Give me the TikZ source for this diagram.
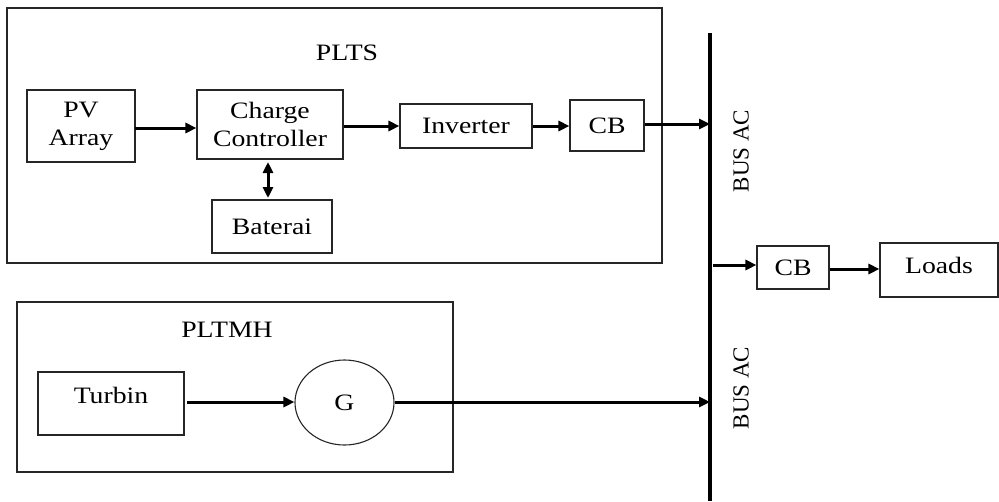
\documentclass[tikz,border=0pt]{standalone}
\usepackage{fontspec}
\setmainfont{Liberation Serif}[FakeStretch=1.18]
\newfontfamily\busfont{Liberation Serif}
\usetikzlibrary{arrows.meta,shapes.geometric}
\begin{document}
\begin{tikzpicture}[x=1pt,y=-1pt,
  every node/.style={font=\fontsize{23.5}{28}\selectfont, inner sep=0pt, align=center},
  box/.style={draw=black!85, line width=1.1pt, rectangle},
  grp/.style={draw=black!85, line width=1.1pt, rectangle},
  arr/.style={line width=3pt, -{Triangle[length=11pt,width=10pt]}},
  darr/.style={line width=3pt, {Triangle[length=11pt,width=10pt]}-{Triangle[length=11pt,width=10pt]}},
  busline/.style={line width=3.2pt},
  buslabel/.style={rotate=90, font=\busfont\fontsize{23}{28}\selectfont}]
\useasboundingbox (0,0) rectangle (999,501);

% groups
\node[grp, minimum width=655pt, minimum height=255pt] (plts) at (334.5,135.5) {};
\node (pltstitle) at (347,53) {PLTS};
\node[grp, minimum width=436pt, minimum height=170pt] (pltmh) at (235,387) {};
\node (pltmhtitle) at (227,330) {PLTMH};

% PLTS blocks
\node[box, minimum width=108pt, minimum height=72pt] (pv) at (81,126) {PV\\Array};
\node[box, minimum width=146pt, minimum height=69pt] (cc) at (270,124.5) {Charge\\Controller};
\node[box, minimum width=120pt, minimum height=53pt] (bat) at (272,226.5) {Baterai};
\node[box, minimum width=132pt, minimum height=44pt] (inv) at (466,126) {Inverter};
\node[box, minimum width=74pt, minimum height=51pt] (cbone) at (607,125.5) {CB};

% bus
\coordinate (bustop) at (710,33);
\coordinate (busbot) at (710,501);
\draw[busline] (bustop) -- (busbot);
\node[buslabel] (busa) at (741,151) {BUS AC};
\node[buslabel] (busb) at (741,388) {BUS AC};

% load side
\node[box, minimum width=72pt, minimum height=43pt] (cbtwo) at (793,267.5) {CB};
\node[box, minimum width=118pt, minimum height=54pt,
      label={[yshift=5pt]center:Loads}] (loads) at (939,270) {};

% PLTMH blocks
\node[box, minimum width=146pt, minimum height=63pt,
      label={[yshift=8pt]center:Turbin}] (turbin) at (111,403.5) {};
\node[draw=black!85, line width=1.1pt, ellipse, minimum width=99pt, minimum height=85pt] (gen) at (344.5,402.5) {G};

% connectors
\coordinate (pvout) at (135,128);
\draw[arr] (pvout) -- (pvout -| cc.west);
\draw[arr] (cc.east |- inv.west) -- (inv.west);
\draw[arr] (inv.east) -- (inv.east -| cbone.west);
\draw[arr] (cbone.east |- 0,124) -- (bustop |- 0,124);
\draw[darr] (268,162) -- (268,198);
\coordinate (tapout) at (713,265);
\draw[arr] (tapout) -- (tapout -| cbtwo.west);
\draw[arr] (cbtwo.east |- 0,269) -- (loads.west |- 0,269);
\coordinate (turbout) at (187,402);
\draw[arr] (turbout) -- (turbout -| gen.west);
\draw[arr] (gen.east |- 0,402) -- (bustop |- 0,402);
\end{tikzpicture}
\end{document}
